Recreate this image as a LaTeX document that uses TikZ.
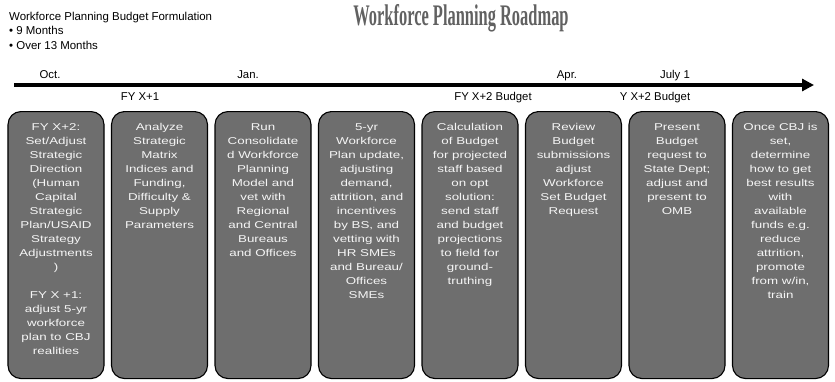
\documentclass[tikz,border=0pt]{standalone}
\usepackage{fontspec}
\setmainfont{Liberation Sans}
\newfontfamily\cardfont[FakeStretch=1.34]{Liberation Sans}
\newfontfamily\titlefont[FakeStretch=0.55]{Liberation Serif}
\usetikzlibrary{arrows.meta}
\tikzset{
  card/.style={draw=black, line width=1.1bp, rounded corners=13bp, fill=black!57,
    minimum width=96bp, minimum height=267bp, anchor=north, inner sep=0pt},
  cardtext/.style={anchor=north, align=center, text=black!4, inner sep=0pt,
    font=\cardfont\fontsize{10}{14.1}\selectfont},
  month/.style={anchor=base, inner sep=0pt, font=\fontsize{11.4}{13}\selectfont},
}
\begin{document}
\begin{tikzpicture}[x=1bp, y=-1bp, line join=round]
  \useasboundingbox (0,0) rectangle (835,381);
  % heading
  \node[anchor=north west, align=left, inner sep=0pt, font=\fontsize{11.5}{14.5}\selectfont] (intro) at (9,12)
    {Workforce Planning Budget Formulation\\ \textbullet\ 9 Months\\ \textbullet\ Over 13 Months};
  \node[anchor=base, inner sep=0pt, text=black!62, font=\titlefont\bfseries\fontsize{30}{30}\selectfont] (title) at (461,25)
    {Workforce Planning Roadmap};
  % time line
  \coordinate (tstart) at (14,85);
  \coordinate (tend) at (814,85);
  \draw[line width=4bp, -{Triangle[length=12bp, width=12bp]}] (tstart) -- (tend);
  \foreach \x/\m/\n in {50/Oct./oct, 248/Jan./jan, 567/Apr./apr, 675/July 1/jul}
    \node[month] (\n) at (\x,78) {\m};
  \foreach \x/\m/\n in {140/FY X+1/fyone, 493/FY X+2 Budget/fytwo, 655/Y X+2 Budget/ytwo}
    \node[month] (\n) at (\x,100) {\m};
  % steps
  \foreach \i/\txt in {
    1/{FY X+2:\\Set/Adjust\\Strategic\\Direction\\(Human\\Capital\\Strategic\\Plan/USAID\\Strategy\\Adjustments\\)\\[14bp]FY X +1:\\adjust 5-yr\\workforce\\plan to CBJ\\realities},
    2/{Analyze\\Strategic\\Matrix\\Indices and\\Funding,\\Difficulty \&\\Supply\\Parameters},
    3/{Run\\Consolidate\\d Workforce\\Planning\\Model and\\vet with\\Regional\\and Central\\Bureaus\\and Offices},
    4/{5-yr\\Workforce\\Plan update,\\adjusting\\demand,\\attrition, and\\incentives\\by BS, and\\vetting with\\HR SMEs\\and Bureau/\\Offices\\SMEs},
    5/{Calculation\\of Budget\\for projected\\staff based\\on opt\\solution:\\send staff\\and budget\\projections\\to field for\\ground-\\truthing},
    6/{Review\\Budget\\submissions\\adjust\\Workforce\\Set Budget\\Request},
    7/{Present\\Budget\\request to\\State Dept;\\adjust and\\present to\\OMB},
    8/{Once CBJ is\\set,\\determine\\how to get\\best results\\with\\available\\funds e.g.\\reduce\\attrition,\\promote\\from w/in,\\train}}
  {
    \node[card] (step\i) at ({56+(\i-1)*103.5},111) {};
    \node[cardtext] (steptext\i) at ([yshift=-12bp]step\i.north) {\txt};
  }
\end{tikzpicture}
\end{document}
